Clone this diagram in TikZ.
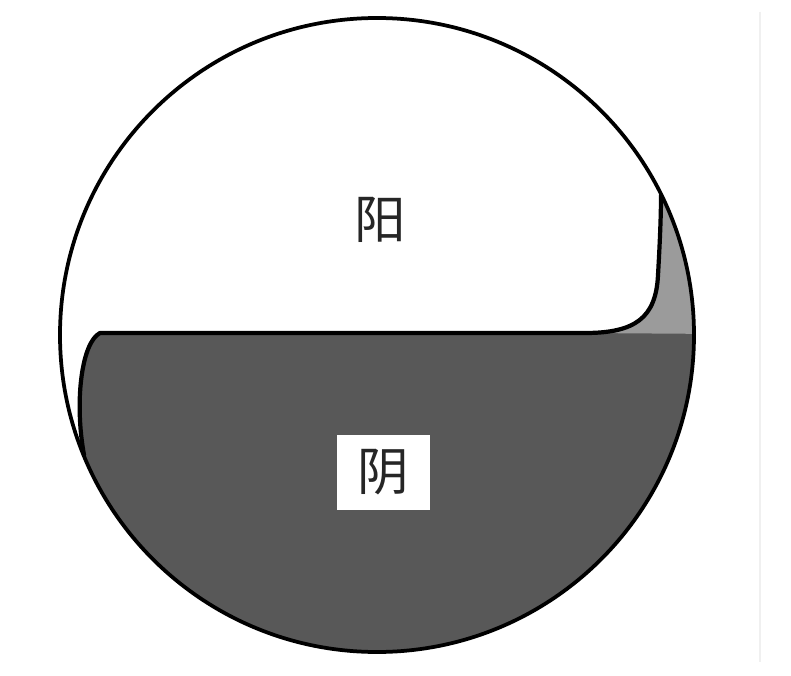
\documentclass[tikz,border=0pt]{standalone}
\usepackage{fontspec}
\newfontfamily\cjk{Noto Sans CJK SC}
\definecolor{yinfill}{RGB}{88,88,88}
\definecolor{edgefill}{RGB}{155,155,155}
\begin{document}
\begin{tikzpicture}[x=0.03cm,y=-0.03cm,
  outline/.style={line width=3.2pt,draw=black},
  edge/.style={line width=3.6pt,draw=black,line join=round,line cap=round},
  label/.style={font=\cjk\fontsize{44}{44}\selectfont,text=black!85,inner sep=0pt}]
\useasboundingbox (0,0) rectangle (791,675);
\fill[white] (0,0) rectangle (791,675);
\coordinate (c) at (377,335);
\coordinate (lt) at (100,333);
\coordinate (rt) at (585,333);
\coordinate (le) at (84,455);
\coordinate (re) at (661,195);
\begin{scope}
  \clip (c) circle [radius=317];
  % dark (yin) region
  \fill[yinfill] (le) .. controls (74,400) and (82,342) .. (lt) -- (720,333) -- (720,700) -- (0,700) -- cycle;
  % light gray sliver on the right
  \fill[edgefill] (rt) .. controls (635,333) and (656,318) .. (658,275) .. controls (660,240) and (661,215) .. (re) -- (720,195) -- (720,334) -- (rt) -- cycle;
\end{scope}
% boundary curves
\draw[edge] (le) .. controls (74,400) and (82,342) .. (lt) -- (rt)
  .. controls (635,333) and (656,318) .. (658,275) .. controls (660,240) and (661,215) .. (re);
% outer circle
\node[circle,outline,minimum size=634*0.03cm,inner sep=0pt] (disk) at (c) {};
% labels
\node[label] (yang) at (380,220) {阳};
\node[label,fill=white,minimum width=2.79cm,minimum height=2.25cm] (yin) at (383,472) {阴};
% faint frame line at right
\draw[black!6,line width=1.5pt] (760,12) coordinate (ft) -- (760,662) coordinate (fb);
\end{tikzpicture}
\end{document}
